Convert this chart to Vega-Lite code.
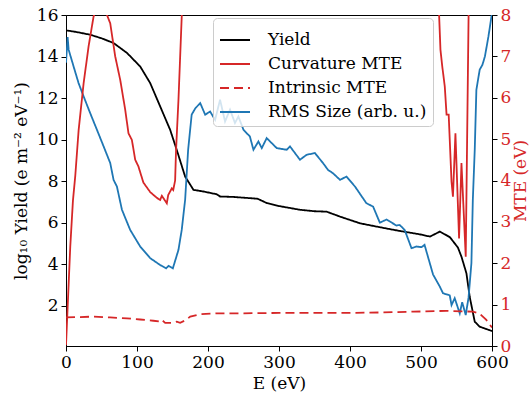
{
  "$schema": "https://vega.github.io/schema/vega-lite/v6.json",
  "width": 426,
  "height": 331,
  "autosize": {"type": "none"},
  "padding": {"left": 66, "top": 15, "right": 39, "bottom": 48},
  "background": "white",
  "datasets": {
    "left": [
      {"E": 0, "v": 15.26, "s": "Yield"},
      {"E": 15, "v": 15.18, "s": "Yield"},
      {"E": 34, "v": 15.05, "s": "Yield"},
      {"E": 50, "v": 14.88, "s": "Yield"},
      {"E": 67, "v": 14.65, "s": "Yield"},
      {"E": 86, "v": 14.17, "s": "Yield"},
      {"E": 104.5, "v": 13.52, "s": "Yield"},
      {"E": 118.6, "v": 12.72, "s": "Yield"},
      {"E": 132.6, "v": 11.6, "s": "Yield"},
      {"E": 146.7, "v": 10.47, "s": "Yield"},
      {"E": 156, "v": 9.5, "s": "Yield"},
      {"E": 167.8, "v": 8.22, "s": "Yield"},
      {"E": 179.5, "v": 7.58, "s": "Yield"},
      {"E": 193.5, "v": 7.5, "s": "Yield"},
      {"E": 212, "v": 7.37, "s": "Yield"},
      {"E": 217, "v": 7.26, "s": "Yield"},
      {"E": 235, "v": 7.24, "s": "Yield"},
      {"E": 259, "v": 7.18, "s": "Yield"},
      {"E": 270, "v": 7.15, "s": "Yield"},
      {"E": 283, "v": 6.94, "s": "Yield"},
      {"E": 300, "v": 6.8, "s": "Yield"},
      {"E": 329.5, "v": 6.62, "s": "Yield"},
      {"E": 350, "v": 6.55, "s": "Yield"},
      {"E": 367, "v": 6.53, "s": "Yield"},
      {"E": 386, "v": 6.29, "s": "Yield"},
      {"E": 414, "v": 5.97, "s": "Yield"},
      {"E": 442, "v": 5.78, "s": "Yield"},
      {"E": 470, "v": 5.6, "s": "Yield"},
      {"E": 498, "v": 5.44, "s": "Yield"},
      {"E": 512.6, "v": 5.33, "s": "Yield"},
      {"E": 526.6, "v": 5.57, "s": "Yield"},
      {"E": 540.7, "v": 5.3, "s": "Yield"},
      {"E": 552, "v": 4.8, "s": "Yield"},
      {"E": 557, "v": 4.36, "s": "Yield"},
      {"E": 564, "v": 3.56, "s": "Yield"},
      {"E": 568.6, "v": 2.43, "s": "Yield"},
      {"E": 575.7, "v": 1.23, "s": "Yield"},
      {"E": 582.7, "v": 0.99, "s": "Yield"},
      {"E": 590, "v": 0.9, "s": "Yield"},
      {"E": 600, "v": 0.78, "s": "Yield"},
      {"E": 0, "v": 13.7, "s": "RMS Size (arb. u.)"},
      {"E": 2.3, "v": 14.94, "s": "RMS Size (arb. u.)"},
      {"E": 3.7, "v": 14.33, "s": "RMS Size (arb. u.)"},
      {"E": 10.7, "v": 13.52, "s": "RMS Size (arb. u.)"},
      {"E": 17.7, "v": 12.72, "s": "RMS Size (arb. u.)"},
      {"E": 24.8, "v": 12.08, "s": "RMS Size (arb. u.)"},
      {"E": 34, "v": 11.28, "s": "RMS Size (arb. u.)"},
      {"E": 43.6, "v": 10.47, "s": "RMS Size (arb. u.)"},
      {"E": 53, "v": 9.67, "s": "RMS Size (arb. u.)"},
      {"E": 62.3, "v": 8.87, "s": "RMS Size (arb. u.)"},
      {"E": 67, "v": 8.06, "s": "RMS Size (arb. u.)"},
      {"E": 71.7, "v": 7.74, "s": "RMS Size (arb. u.)"},
      {"E": 78.8, "v": 6.62, "s": "RMS Size (arb. u.)"},
      {"E": 90.4, "v": 5.65, "s": "RMS Size (arb. u.)"},
      {"E": 104.5, "v": 4.85, "s": "RMS Size (arb. u.)"},
      {"E": 118.6, "v": 4.29, "s": "RMS Size (arb. u.)"},
      {"E": 132.6, "v": 3.96, "s": "RMS Size (arb. u.)"},
      {"E": 141, "v": 3.8, "s": "RMS Size (arb. u.)"},
      {"E": 144.4, "v": 3.92, "s": "RMS Size (arb. u.)"},
      {"E": 150.5, "v": 3.8, "s": "RMS Size (arb. u.)"},
      {"E": 158.4, "v": 4.69, "s": "RMS Size (arb. u.)"},
      {"E": 163, "v": 5.65, "s": "RMS Size (arb. u.)"},
      {"E": 167.8, "v": 7.1, "s": "RMS Size (arb. u.)"},
      {"E": 172, "v": 9.5, "s": "RMS Size (arb. u.)"},
      {"E": 177, "v": 11.2, "s": "RMS Size (arb. u.)"},
      {"E": 182, "v": 11.5, "s": "RMS Size (arb. u.)"},
      {"E": 189, "v": 11.76, "s": "RMS Size (arb. u.)"},
      {"E": 196, "v": 11.2, "s": "RMS Size (arb. u.)"},
      {"E": 203, "v": 11.35, "s": "RMS Size (arb. u.)"},
      {"E": 210, "v": 10.95, "s": "RMS Size (arb. u.)"},
      {"E": 217, "v": 11.92, "s": "RMS Size (arb. u.)"},
      {"E": 224, "v": 10.87, "s": "RMS Size (arb. u.)"},
      {"E": 231, "v": 11.44, "s": "RMS Size (arb. u.)"},
      {"E": 238, "v": 10.8, "s": "RMS Size (arb. u.)"},
      {"E": 242.8, "v": 11.11, "s": "RMS Size (arb. u.)"},
      {"E": 250, "v": 10.47, "s": "RMS Size (arb. u.)"},
      {"E": 259, "v": 10.15, "s": "RMS Size (arb. u.)"},
      {"E": 264, "v": 9.51, "s": "RMS Size (arb. u.)"},
      {"E": 271, "v": 9.91, "s": "RMS Size (arb. u.)"},
      {"E": 275.7, "v": 9.59, "s": "RMS Size (arb. u.)"},
      {"E": 282.7, "v": 10.07, "s": "RMS Size (arb. u.)"},
      {"E": 296.8, "v": 9.59, "s": "RMS Size (arb. u.)"},
      {"E": 310.8, "v": 9.51, "s": "RMS Size (arb. u.)"},
      {"E": 315.5, "v": 9.67, "s": "RMS Size (arb. u.)"},
      {"E": 329.5, "v": 9.03, "s": "RMS Size (arb. u.)"},
      {"E": 339, "v": 9.27, "s": "RMS Size (arb. u.)"},
      {"E": 350.6, "v": 9.35, "s": "RMS Size (arb. u.)"},
      {"E": 362, "v": 8.87, "s": "RMS Size (arb. u.)"},
      {"E": 369, "v": 8.54, "s": "RMS Size (arb. u.)"},
      {"E": 376, "v": 8.38, "s": "RMS Size (arb. u.)"},
      {"E": 386, "v": 8.06, "s": "RMS Size (arb. u.)"},
      {"E": 395, "v": 8.22, "s": "RMS Size (arb. u.)"},
      {"E": 407, "v": 7.74, "s": "RMS Size (arb. u.)"},
      {"E": 423, "v": 6.94, "s": "RMS Size (arb. u.)"},
      {"E": 432.6, "v": 6.77, "s": "RMS Size (arb. u.)"},
      {"E": 442, "v": 6.0, "s": "RMS Size (arb. u.)"},
      {"E": 451.5, "v": 6.15, "s": "RMS Size (arb. u.)"},
      {"E": 465.5, "v": 5.86, "s": "RMS Size (arb. u.)"},
      {"E": 470, "v": 5.89, "s": "RMS Size (arb. u.)"},
      {"E": 477, "v": 5.65, "s": "RMS Size (arb. u.)"},
      {"E": 486.6, "v": 4.77, "s": "RMS Size (arb. u.)"},
      {"E": 493.7, "v": 4.85, "s": "RMS Size (arb. u.)"},
      {"E": 500.7, "v": 4.82, "s": "RMS Size (arb. u.)"},
      {"E": 505, "v": 4.93, "s": "RMS Size (arb. u.)"},
      {"E": 517, "v": 3.5, "s": "RMS Size (arb. u.)"},
      {"E": 526.5, "v": 2.92, "s": "RMS Size (arb. u.)"},
      {"E": 531, "v": 2.6, "s": "RMS Size (arb. u.)"},
      {"E": 540.5, "v": 2.5, "s": "RMS Size (arb. u.)"},
      {"E": 543, "v": 2.03, "s": "RMS Size (arb. u.)"},
      {"E": 547.5, "v": 2.36, "s": "RMS Size (arb. u.)"},
      {"E": 554.6, "v": 1.63, "s": "RMS Size (arb. u.)"},
      {"E": 558, "v": 2.17, "s": "RMS Size (arb. u.)"},
      {"E": 563, "v": 1.55, "s": "RMS Size (arb. u.)"},
      {"E": 567, "v": 2.4, "s": "RMS Size (arb. u.)"},
      {"E": 571, "v": 4.05, "s": "RMS Size (arb. u.)"},
      {"E": 573, "v": 7.1, "s": "RMS Size (arb. u.)"},
      {"E": 575.7, "v": 9.51, "s": "RMS Size (arb. u.)"},
      {"E": 578, "v": 12.4, "s": "RMS Size (arb. u.)"},
      {"E": 582.7, "v": 13.37, "s": "RMS Size (arb. u.)"},
      {"E": 586.5, "v": 13.6, "s": "RMS Size (arb. u.)"},
      {"E": 590, "v": 14.0, "s": "RMS Size (arb. u.)"},
      {"E": 595, "v": 14.97, "s": "RMS Size (arb. u.)"},
      {"E": 600, "v": 16.1, "s": "RMS Size (arb. u.)"}
    ],
    "right": [
      {"E": 0, "m": 0.02, "s": "Curvature MTE"},
      {"E": 6, "m": 2.4, "s": "Curvature MTE"},
      {"E": 9.8, "m": 3.52, "s": "Curvature MTE"},
      {"E": 13, "m": 4.1, "s": "Curvature MTE"},
      {"E": 17.8, "m": 5.22, "s": "Curvature MTE"},
      {"E": 24.8, "m": 6.35, "s": "Curvature MTE"},
      {"E": 31.8, "m": 7.24, "s": "Curvature MTE"},
      {"E": 38.8, "m": 7.96, "s": "Curvature MTE"},
      {"E": 48, "m": 8.4, "s": "Curvature MTE"},
      {"E": 57.7, "m": 8.0, "s": "Curvature MTE"},
      {"E": 62.3, "m": 7.8, "s": "Curvature MTE"},
      {"E": 69.3, "m": 7.0, "s": "Curvature MTE"},
      {"E": 76.4, "m": 6.43, "s": "Curvature MTE"},
      {"E": 83.4, "m": 5.71, "s": "Curvature MTE"},
      {"E": 88, "m": 5.14, "s": "Curvature MTE"},
      {"E": 92.8, "m": 4.98, "s": "Curvature MTE"},
      {"E": 97.5, "m": 4.5, "s": "Curvature MTE"},
      {"E": 102, "m": 4.34, "s": "Curvature MTE"},
      {"E": 109, "m": 3.95, "s": "Curvature MTE"},
      {"E": 118.6, "m": 3.72, "s": "Curvature MTE"},
      {"E": 128, "m": 3.58, "s": "Curvature MTE"},
      {"E": 132.6, "m": 3.53, "s": "Curvature MTE"},
      {"E": 135, "m": 3.63, "s": "Curvature MTE"},
      {"E": 142, "m": 3.45, "s": "Curvature MTE"},
      {"E": 144, "m": 3.65, "s": "Curvature MTE"},
      {"E": 149, "m": 3.81, "s": "Curvature MTE"},
      {"E": 151, "m": 3.77, "s": "Curvature MTE"},
      {"E": 153.7, "m": 4.0, "s": "Curvature MTE"},
      {"E": 155, "m": 4.74, "s": "Curvature MTE"},
      {"E": 158.4, "m": 5.95, "s": "Curvature MTE"},
      {"E": 163, "m": 7.96, "s": "Curvature MTE"},
      {"E": 166, "m": 9.0, "s": "Curvature MTE"},
      {"E": 523, "m": 9.0, "s": "Curvature MTE"},
      {"E": 525.5, "m": 8.0, "s": "Curvature MTE"},
      {"E": 527.4, "m": 7.16, "s": "Curvature MTE"},
      {"E": 530, "m": 6.75, "s": "Curvature MTE"},
      {"E": 533.5, "m": 6.27, "s": "Curvature MTE"},
      {"E": 536, "m": 5.59, "s": "Curvature MTE"},
      {"E": 539, "m": 5.59, "s": "Curvature MTE"},
      {"E": 543, "m": 3.97, "s": "Curvature MTE"},
      {"E": 545, "m": 3.61, "s": "Curvature MTE"},
      {"E": 548.5, "m": 5.14, "s": "Curvature MTE"},
      {"E": 553.6, "m": 2.6, "s": "Curvature MTE"},
      {"E": 557, "m": 4.42, "s": "Curvature MTE"},
      {"E": 563, "m": 2.16, "s": "Curvature MTE"},
      {"E": 567, "m": 7.96, "s": "Curvature MTE"},
      {"E": 570, "m": 9.0, "s": "Curvature MTE"},
      {"E": 0, "m": 0.69, "s": "Intrinsic MTE"},
      {"E": 20, "m": 0.7, "s": "Intrinsic MTE"},
      {"E": 39, "m": 0.71, "s": "Intrinsic MTE"},
      {"E": 62, "m": 0.69, "s": "Intrinsic MTE"},
      {"E": 86, "m": 0.67, "s": "Intrinsic MTE"},
      {"E": 104.5, "m": 0.64, "s": "Intrinsic MTE"},
      {"E": 123, "m": 0.61, "s": "Intrinsic MTE"},
      {"E": 132.6, "m": 0.59, "s": "Intrinsic MTE"},
      {"E": 135, "m": 0.63, "s": "Intrinsic MTE"},
      {"E": 139.7, "m": 0.56, "s": "Intrinsic MTE"},
      {"E": 151, "m": 0.56, "s": "Intrinsic MTE"},
      {"E": 156, "m": 0.59, "s": "Intrinsic MTE"},
      {"E": 160.8, "m": 0.56, "s": "Intrinsic MTE"},
      {"E": 168, "m": 0.62, "s": "Intrinsic MTE"},
      {"E": 175, "m": 0.71, "s": "Intrinsic MTE"},
      {"E": 189, "m": 0.77, "s": "Intrinsic MTE"},
      {"E": 212, "m": 0.79, "s": "Intrinsic MTE"},
      {"E": 250, "m": 0.79, "s": "Intrinsic MTE"},
      {"E": 300, "m": 0.8, "s": "Intrinsic MTE"},
      {"E": 350, "m": 0.8, "s": "Intrinsic MTE"},
      {"E": 400, "m": 0.8, "s": "Intrinsic MTE"},
      {"E": 442, "m": 0.81, "s": "Intrinsic MTE"},
      {"E": 489, "m": 0.83, "s": "Intrinsic MTE"},
      {"E": 535.5, "m": 0.85, "s": "Intrinsic MTE"},
      {"E": 573, "m": 0.83, "s": "Intrinsic MTE"},
      {"E": 582, "m": 0.79, "s": "Intrinsic MTE"},
      {"E": 592, "m": 0.63, "s": "Intrinsic MTE"},
      {"E": 597, "m": 0.51, "s": "Intrinsic MTE"},
      {"E": 600, "m": 0.45, "s": "Intrinsic MTE"}
    ]
  },
  "encoding": {
    "x": {
      "field": "E", "type": "quantitative",
      "scale": {"domain": [0, 600], "nice": false},
      "axis": {"values": [0, 100, 200, 300, 400, 500, 600], "title": "E (eV)", "titlePadding": 5}
    },
    "color": {
      "field": "s", "type": "nominal",
      "scale": {
        "domain": ["Yield", "Curvature MTE", "Intrinsic MTE", "RMS Size (arb. u.)"],
        "range": ["#000000", "#d62728", "#d62728", "#1f77b4"]
      },
      "legend": {
        "title": null, "orient": "none", "legendX": 147, "legendY": 3,
        "symbolType": "stroke", "symbolSize": 900, "symbolStrokeWidth": 2,
        "labelFontSize": 17, "labelOffset": 17, "rowPadding": 0,
        "fillColor": "rgba(255,255,255,0.8)", "strokeColor": "#cccccc", "cornerRadius": 4, "padding": 6
      }
    },
    "strokeDash": {
      "field": "s", "type": "nominal",
      "scale": {
        "domain": ["Yield", "Curvature MTE", "Intrinsic MTE", "RMS Size (arb. u.)"],
        "range": [[1, 0], [1, 0], [9, 5], [1, 0]]
      },
      "legend": {
        "title": null, "orient": "none", "legendX": 147, "legendY": 3,
        "symbolType": "stroke", "symbolSize": 900, "symbolStrokeWidth": 2,
        "labelFontSize": 17, "labelOffset": 17, "rowPadding": 0,
        "fillColor": "rgba(255,255,255,0.8)", "strokeColor": "#cccccc", "cornerRadius": 4, "padding": 6
      }
    }
  },
  "layer": [
    {
      "data": {"name": "left"},
      "mark": {"type": "line", "strokeWidth": 1.8, "clip": true},
      "encoding": {
        "y": {
          "field": "v", "type": "quantitative",
          "scale": {"domain": [0.06, 16], "nice": false, "zero": false},
          "axis": {"values": [2, 4, 6, 8, 10, 12, 14, 16], "title": "log₁₀ Yield (e m⁻² eV⁻¹)", "titlePadding": 6}
        }
      }
    },
    {
      "data": {"name": "right"},
      "mark": {"type": "line", "strokeWidth": 1.8, "clip": true},
      "encoding": {
        "y": {
          "field": "m", "type": "quantitative",
          "scale": {"domain": [0, 8], "nice": false},
          "axis": {"orient": "right", "values": [0, 1, 2, 3, 4, 5, 6, 7, 8], "title": "MTE (eV)", "titleAngle": 270, "titleBaseline": "top", "labelColor": "#d62728", "titleColor": "#d62728", "titlePadding": 2}
        }
      }
    }
  ],
  "resolve": {"scale": {"y": "independent"}, "axis": {"y": "independent"}},
  "config": {
    "font": "DejaVu Serif",
    "view": {"stroke": "#000000", "strokeWidth": 1},
    "axis": {
      "labelFont": "DejaVu Serif", "titleFont": "DejaVu Serif",
      "labelFontSize": 17, "titleFontSize": 17, "titleFontWeight": "normal",
      "labelColor": "#000000", "titleColor": "#000000",
      "domainColor": "#000000", "tickColor": "#000000",
      "tickSize": 5, "labelPadding": 3, "grid": false, "labelFlush": false, "labelOverlap": false
    },
    "legend": {"labelFont": "DejaVu Serif", "labelColor": "#000000"}
  }
}
